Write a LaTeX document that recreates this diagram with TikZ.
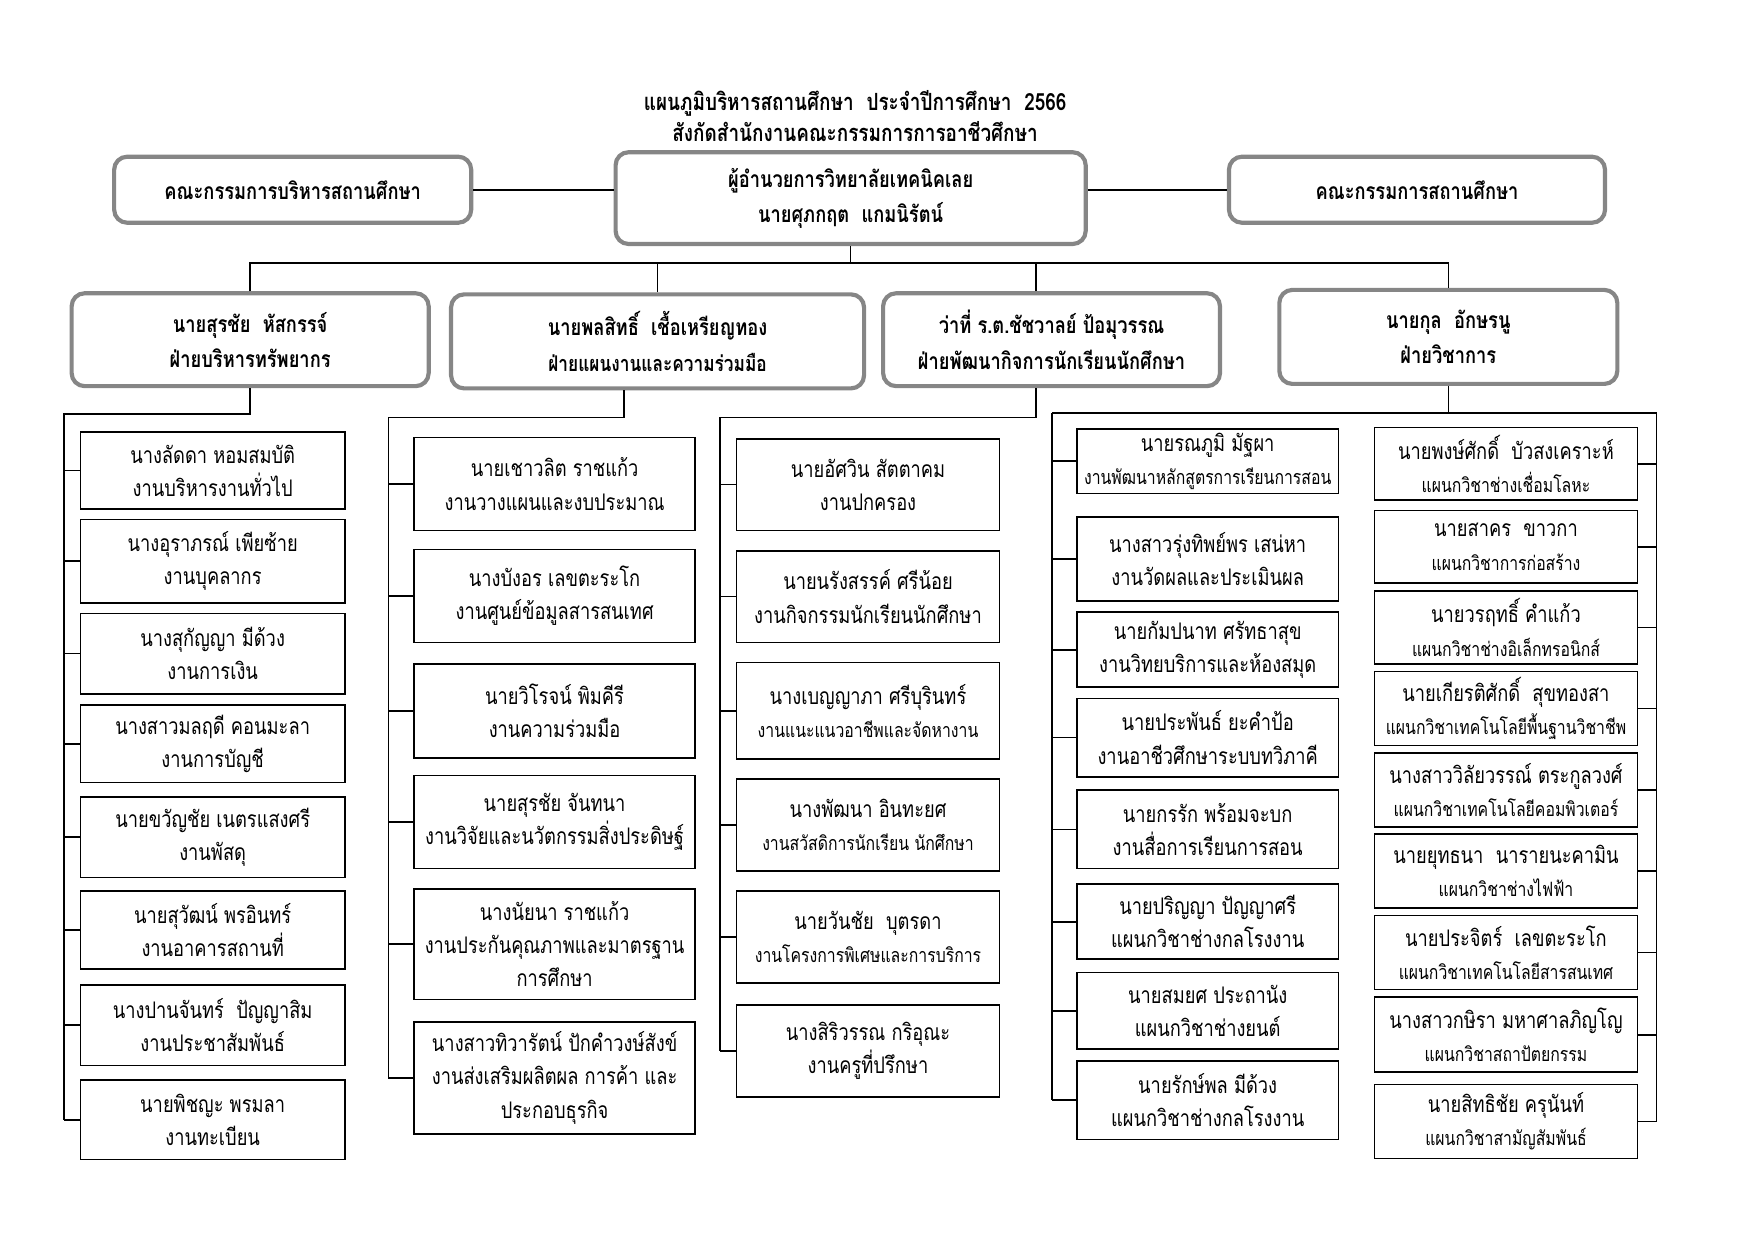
\documentclass[tikz,border=0pt]{standalone}
\usepackage{fontspec}
\newfontfamily\thaifont[Script=Thai, FakeStretch=0.8]{Loma}
\usetikzlibrary{positioning}
\tikzset{
  headbox/.style={draw=gray!95, line width=2pt, rounded corners=2.2mm, fill=white,
    align=center, inner sep=0pt, font=\thaifont\bfseries\fontsize{11}{17}\selectfont},
  staffbox/.style={draw, line width=0.8pt, fill=white, align=center, inner sep=0pt,
    font=\thaifont\fontsize{11}{16}\selectfont},
  boxsize/.style 2 args={minimum width=#1*0.18941mm, minimum height=#2*0.18941mm},
  link/.style={line width=0.8pt},
}
\newcommand{\sm}{\fontsize{9.5}{14}\selectfont}

\begin{document}
\begin{tikzpicture}[x=0.18941mm, y=-0.18941mm]
  \useasboundingbox (0,0) rectangle (1568,1109);
  % title
  \node[font=\thaifont\bfseries\fontsize{11.4}{15}\selectfont, align=center] (title) at (764,104)
    {แผนภูมิบริหารสถานศึกษา~~ประจำปีการศึกษา~~2566\\สังกัดสำนักงานคณะกรรมการการอาชีวศึกษา};
  % top row
  \node[headbox, boxsize={319}{59}] (board1) at (261.5,169.5) {คณะกรรมการบริหารสถานศึกษา};
  \node[headbox, boxsize={420}{82}] (dir) at (760,177) {ผู้อำนวยการวิทยาลัยเทคนิคเลย\\นายศุภกฤต~~แกมนิรัตน์};
  \node[headbox, boxsize={336}{59}] (board2) at (1266,169.5) {คณะกรรมการสถานศึกษา};
  \draw[link] (board1.east) -- (board1.east -| dir.west);
  \draw[link] (dir.east |- board2.west) -- (board2.west);
  % deputies
  \node[headbox, boxsize={319}{83}] (dep1) at (223.5,303.5) {นายสุรชัย~~หัสกรรจ์\\ฝ่ายบริหารทรัพยากร};
  \node[headbox, boxsize={369}{84}] (dep2) at (587.5,305) {นายพลสิทธิ์~~เชื้อเหรียญทอง\\{\fontsize{10.4}{15}\selectfont ฝ่ายแผนงานและความร่วมมือ}};
  \node[headbox, boxsize={301}{83}] (dep3) at (939.5,303.5) {ว่าที่ ร.ต.ชัชวาลย์ ป้อมุวรรณ\\ฝ่ายพัฒนากิจการนักเรียนนักศึกษา};
  \node[headbox, boxsize={302}{84}] (dep4) at (1294,301) {นายกุล~~อักษรนู\\ฝ่ายวิชาการ};
  % bus under director
  \coordinate (bus) at (0,235);
  \draw[link] (dir.south) -- (dir.south |- bus);
  \draw[link] (dep1.north) -- (dep1.north |- bus) -- (dep4.north |- bus) -- (dep4.north);
  \draw[link] (dep2.north) -- (dep2.north |- bus);
  \draw[link] ([xshift=-2.6mm]dep3.north) -- ([xshift=-2.6mm]dep3.north |- bus);
  % spines
  \coordinate (s1) at (57,370);
  \coordinate (s2) at (347,373);
  \coordinate (s3) at (643,373);
  \coordinate (s4) at (940,369);
  \coordinate (s5) at (1480,369);

  % column 1
  \foreach \yc/\h/\txt [count=\i] in {
      420.5/69/{นางลัดดา หอมสมบัติ\\งานบริหารงานทั่วไป},
      501.5/75/{นางอุราภรณ์ เพียซ้าย\\งานบุคลากร},
      584/72/{นางสุกัญญา มีด้วง\\งานการเงิน},
      664.5/69/{นางสาวมลฤดี คอนมะลา\\งานการบัญชี},
      748/72/{นายขวัญชัย เนตรแสงศรี\\งานพัสดุ},
      831/70/{นายสุวัฒน์ พรอินทร์\\งานอาคารสถานที่},
      916/72/{นางปานจันทร์~~ปัญญาสิม\\งานประชาสัมพันธ์},
      1000.5/71/{นายพิชญะ พรมลา\\งานทะเบียน}} {
    \node[staffbox, boxsize={236}{\h}] (c1-\i) at (190,\yc) {\txt};
    \draw[link] (c1-\i.west) -- (c1-\i.west -| s1);
  }
  \draw[link] (dep1.south) |- (s1) -- (s1 |- c1-8.west);

  % column 2
  \foreach \yc/\h/\txt [count=\i] in {
      432.5/83/{นายเชาวลิต ราชแก้ว\\งานวางแผนและงบประมาณ},
      532.5/83/{นางบังอร เลขตะระโก\\งานศูนย์ข้อมูลสารสนเทศ},
      635/84/{นายวิโรจน์ พิมคีรี\\งานความร่วมมือ},
      734.5/83/{นายสุรชัย จันทนา\\งานวิจัยและนวัตกรรมสิ่งประดิษฐ์},
      843.5/99/{นางนัยนา ราชแก้ว\\งานประกันคุณภาพและมาตรฐาน\\การศึกษา},
      963/100/{นางสาวทิวารัตน์ ปักคำวงษ์สังข์\\งานส่งเสริมผลิตผล การค้า และ\\ประกอบธุรกิจ}} {
    \node[staffbox, boxsize={251}{\h}] (c2-\i) at (495.5,\yc) {\txt};
    \draw[link] (c2-\i.west) -- (c2-\i.west -| s2);
  }
  \draw[link] ([xshift=-5.7mm]dep2.south) |- (s2) -- (s2 |- c2-6.west);

  % column 3
  \foreach \yc/\h/\txt [count=\i] in {
      433/82/{นายอัศวิน สัตตาคม\\งานปกครอง},
      533/82/{นายนรังสรรค์ ศรีน้อย\\งานกิจกรรมนักเรียนนักศึกษา},
      635/86/{นางเบญญาภา ศรีบุรินทร์\\{\sm งานแนะแนวอาชีพและจัดหางาน}},
      737/82/{นางพัฒนา อินทะยศ\\{\sm งานสวัสดิการนักเรียน นักศึกษา}},
      837/82/{นายวันชัย~~บุตรดา\\{\sm งานโครงการพิเศษและการบริการ}},
      939/82/{นางสิริวรรณ กริอุณะ\\งานครูที่ปรึกษา}} {
    \node[staffbox, boxsize={235}{\h}] (c3-\i) at (775.5,\yc) {\txt};
    \draw[link] (c3-\i.west) -- (c3-\i.west -| s3);
  }
  \draw[link] ([xshift=-2.6mm]dep3.south) |- (s3) -- (s3 |- c3-6.west);

  % column 4
  \foreach \yc/\h/\txt [count=\i] in {
      412/58/{นายรณภูมิ มัฐผา\\{\sm งานพัฒนาหลักสูตรการเรียนการสอน}},
      499.5/75/{นางสาวรุ่งทิพย์พร เสน่หา\\งานวัดผลและประเมินผล},
      580.5/67/{นายกัมปนาท ศรัทธาสุข\\งานวิทยบริการและห้องสมุด},
      659/70/{นายประพันธ์ ยะคำป้อ\\งานอาชีวศึกษาระบบทวิภาคี},
      741/70/{นายกรรัก พร้อมจะบก\\งานสื่อการเรียนการสอน},
      823.5/67/{นายปริญญา ปัญญาศรี\\แผนกวิชาช่างกลโรงงาน},
      903/68/{นายสมยศ ประถานัง\\แผนกวิชาช่างยนต์},
      983/70/{นายรักษ์พล มีด้วง\\แผนกวิชาช่างกลโรงงาน}} {
    \node[staffbox, boxsize={234}{\h}] (c4-\i) at (1079,\yc) {\txt};
    \draw[link] (c4-\i.west) -- (c4-\i.west -| s4);
  }

  % column 5
  \foreach \yc/\h/\txt [count=\i] in {
      414.5/65/{นายพงษ์ศักดิ์~~บัวสงเคราะห์\\{\sm แผนกวิชาช่างเชื่อมโลหะ}},
      488.5/65/{นายสาคร~~ขาวกา\\{\sm แผนกวิชาการก่อสร้าง}},
      560.5/65/{นายวรฤทธิ์ คำแก้ว\\{\sm แผนกวิชาช่างอิเล็กทรอนิกส์}},
      633/66/{นายเกียรติศักดิ์~~สุขทองสา\\{\sm แผนกวิชาเทคโนโลยีพื้นฐานวิชาชีพ}},
      706/66/{นางสาววิลัยวรรณ์ ตระกูลวงศ์\\{\sm แผนกวิชาเทคโนโลยีคอมพิวเตอร์}},
      778/66/{นายยุทธนา~~นารายนะคามิน\\{\sm แผนกวิชาช่างไฟฟ้า}},
      851/66/{นายประจิตร์~~เลขตะระโก\\{\sm แผนกวิชาเทคโนโลยีสารสนเทศ}},
      924.5/67/{นางสาวกษิรา มหาศาลภิญโญ\\{\sm แผนกวิชาสถาปัตยกรรม}},
      1002/66/{นายสิทธิชัย ครุนันท์\\{\sm แผนกวิชาสามัญสัมพันธ์}}} {
    \node[staffbox, boxsize={235}{\h}] (c5-\i) at (1345.5,\yc) {\txt};
    \draw[link] (c5-\i.east) -- (c5-\i.east -| s5);
  }
  % academic branch splits in two
  \draw[link] (dep4.south) -- (dep4.south |- s4);
  \draw[link] (s4) -- (s5);
  \draw[link] (s4) -- (s4 |- c4-8.west);
  \draw[link] (s5) -- (s5 |- c5-9.east);
\end{tikzpicture}
\end{document}
